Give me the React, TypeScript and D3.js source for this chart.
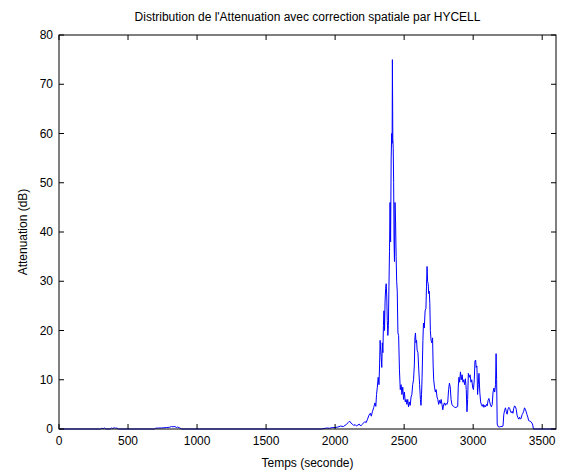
import React from "react";
import * as d3 from "d3";

// Time (s) and attenuation (dB) samples of the HYCELL-corrected series
const seconds = [
  0, 300, 310, 320, 330, 340, 370, 380, 390, 400, 410, 420, 430, 690, 700, 720, 740, 760, 780, 800, 815, 825, 840, 850, 860, 875, 890, 1900,
  1920, 1940, 1960, 1980, 2000, 2020, 2040, 2060, 2080, 2095, 2105, 2115, 2125, 2135, 2145, 2155, 2165, 2175, 2185, 2195, 2205, 2215, 2225, 2235, 2245, 2255, 2262, 2270, 2280, 2288, 2295,
  2300, 2306, 2312, 2318, 2322, 2326, 2330, 2334, 2338, 2342, 2346, 2350, 2354, 2358, 2362, 2366, 2370, 2374, 2378, 2382, 2386, 2390, 2394, 2398,
  2402, 2406, 2410, 2413, 2415, 2418, 2421, 2424, 2427, 2430, 2434, 2438, 2442, 2446, 2450, 2455, 2460, 2466, 2472, 2478, 2484, 2490, 2496,
  2502, 2508, 2514, 2520, 2526, 2532, 2538, 2544, 2550, 2556, 2562, 2568, 2574, 2578, 2582, 2586, 2590, 2594, 2600, 2606, 2612, 2618, 2622, 2626, 2630, 2636,
  2640, 2646, 2652, 2658, 2662, 2666, 2670, 2674, 2678, 2682, 2686, 2690, 2695, 2700, 2706, 2710, 2714, 2720, 2726, 2732, 2738, 2744, 2750, 2756, 2762, 2768, 2774,
  2780, 2786, 2792, 2798, 2804, 2810, 2816, 2822, 2828, 2834, 2840, 2846, 2852, 2858, 2864, 2870, 2876, 2882, 2888, 2892, 2897,
  2902, 2908, 2914, 2920, 2926, 2932, 2938, 2944, 2950, 2955, 2960, 2965, 2972, 2978, 2984, 2990, 2996,
  3002, 3008, 3013, 3018, 3022, 3027, 3032, 3037, 3042, 3048, 3054, 3060, 3066, 3072, 3078, 3084, 3090, 3096,
  3102, 3108, 3114, 3120, 3126, 3132, 3138, 3144, 3150, 3156, 3162, 3166, 3170, 3174, 3180, 3190,
  3200, 3210, 3216, 3222, 3228, 3234, 3240, 3246, 3252, 3258, 3264, 3270, 3276, 3282, 3288, 3294,
  3300, 3306, 3312, 3318, 3324, 3330, 3336, 3342, 3348, 3354, 3360, 3366, 3372, 3378, 3384, 3390, 3396,
  3402, 3410, 3418, 3426, 3432, 3436, 3600,
];

const attenuation = [
  0, 0, 0.15, 0.05, 0.2, 0, 0, 0.2, 0.1, 0.25, 0.15, 0.2, 0, 0, 0.15, 0.2, 0.2, 0.25, 0.3, 0.35, 0.5, 0.45, 0.5, 0.3, 0.4, 0.2, 0, 0,
  0.1, 0.2, 0.15, 0.3, 0.3, 0.4, 0.6, 0.5, 0.9, 1.3, 1.6, 1.2, 1.0, 0.7, 0.9, 0.6, 0.8, 1.0, 0.6, 0.9, 1.2, 1.5, 1.3, 2.0, 2.8, 3.2, 2.6, 3.5, 4.4, 5.3, 4.6,
  7.0, 8.5, 10.5, 9.0, 13.0, 18.0, 16.0, 14.5, 12.5, 17.5, 15.5, 21.0, 24.0, 20.0, 26.0, 28.5, 29.5, 27.0, 22.0, 19.0, 21.0, 29.0, 36.0, 46.0,
  38.0, 55.0, 60.0, 58.0, 75.0, 59.0, 57.0, 50.0, 38.0, 34.0, 46.0, 42.0, 35.0, 30.0, 28.0, 19.5, 19.0, 12.0, 8.0, 9.0, 7.0, 8.5, 6.0,
  7.5, 5.5, 6.0, 5.0, 6.0, 4.5, 5.5, 4.8, 6.5, 7.0, 9.0, 10.0, 13.0, 18.5, 19.5, 17.5, 18.0, 16.0, 15.5, 12.0, 9.0, 6.0, 4.8, 7.0, 10.5, 18.0,
  21.5, 20.5, 24.0, 24.5, 29.0, 33.0, 30.0, 29.5, 27.5, 28.0, 25.5, 20.0, 18.0, 17.5, 18.5, 13.0, 10.0, 8.5, 7.5, 8.0, 6.5, 6.0, 5.0, 5.8, 5.2, 6.0, 5.0,
  3.9, 5.0, 5.3, 4.8, 5.2, 5.0, 5.5, 8.0, 9.3, 8.5, 6.0, 5.0, 4.7, 4.6, 4.5, 4.3, 4.5, 4.4, 4.6, 8.5, 10.5,
  9.5, 11.6, 10.0, 11.0, 9.5, 10.0, 9.0, 10.2, 8.0, 3.5, 6.0, 11.3, 10.5, 11.0, 9.5, 10.0, 8.5,
  8.0, 10.0, 13.8, 14.0, 12.5, 12.8, 7.0, 9.0, 11.3, 7.5, 5.5, 4.9, 4.6, 5.0, 4.4, 4.8, 4.5, 5.0,
  4.7, 5.8, 6.2, 5.5, 4.8, 4.5, 5.0, 7.5, 8.3, 7.5, 9.0, 15.3, 10.0, 1.0, 0.5, 0.4,
  0.5, 0.5, 0.6, 3.0, 3.8, 4.3, 3.5, 3.0, 4.0, 4.4, 4.2, 3.6, 3.3, 3.6, 3.2, 4.2,
  4.7, 4.5, 4.0, 2.8, 2.3, 2.0, 2.4, 2.0, 2.2, 2.9, 3.2, 3.6, 4.3, 4.0, 3.5, 2.9, 2.4,
  1.7, 1.6, 1.5, 1.2, 0.8, 0, 0,
];

const xTicks = [0, 500, 1000, 1500, 2000, 2500, 3000, 3500];
const yTicks = [0, 10, 20, 30, 40, 50, 60, 70, 80];

const titleText = "Distribution de l'Attenuation avec correction spatiale par HYCELL";
const xLabel = "Temps (seconde)";
const yLabel = "Attenuation (dB)";

const W = 567;
const H = 470;
const margin = { left: 59, right: 11, top: 35, bottom: 41 };
const font = "'Liberation Sans', Arial, sans-serif";
const fontSize = 12;
const tickLen = 5;

export default function App() {
  const x = d3.scaleLinear().domain([0, 3600]).range([margin.left, W - margin.right]);
  const y = d3.scaleLinear().domain([0, 80]).range([H - margin.bottom, margin.top]);
  const [x0, x1] = x.range();
  const [y0, y1] = y.range();

  const points: [number, number][] = seconds.map((t, i) => [t, attenuation[i]]);
  const line = d3
    .line<[number, number]>()
    .x((d) => x(d[0]))
    .y((d) => y(d[1]));

  return (
    <svg
      width={W}
      height={H}
      style={{ position: "absolute", left: 0, top: 0, background: "#fff" }}
      fontFamily={font}
    >
      <rect x={0} y={0} width={W} height={H} fill="#fff" />
      <text x={(x0 + x1) / 2} y={21} fontSize={fontSize} textAnchor="middle" fill="#000">
        {titleText}
      </text>

      <path d={line(points) ?? ""} fill="none" stroke="#0000ff" strokeWidth={1} />

      {/* ticks on all four sides, pointing inward */}
      {xTicks.map((t) => (
        <g key={"xt" + t}>
          <line x1={x(t)} x2={x(t)} y1={y0} y2={y0 - tickLen} stroke="#000" />
          <line x1={x(t)} x2={x(t)} y1={y1} y2={y1 + tickLen} stroke="#000" />
          <text x={x(t)} y={y0 + 16} fontSize={fontSize} textAnchor="middle" fill="#000">
            {t}
          </text>
        </g>
      ))}
      {yTicks.map((t) => (
        <g key={"yt" + t}>
          <line x1={x0} x2={x0 + tickLen} y1={y(t)} y2={y(t)} stroke="#000" />
          <line x1={x1} x2={x1 - tickLen} y1={y(t)} y2={y(t)} stroke="#000" />
          <text x={x0 - 6} y={y(t) + 4} fontSize={fontSize} textAnchor="end" fill="#000">
            {t}
          </text>
        </g>
      ))}

      <rect
        x={x0}
        y={y1}
        width={x1 - x0}
        height={y0 - y1}
        fill="none"
        stroke="#000"
        strokeWidth={1}
      />

      <text x={(x0 + x1) / 2} y={467} fontSize={fontSize} textAnchor="middle" fill="#000">
        {xLabel}
      </text>
      <text
        transform={`translate(27, ${(y0 + y1) / 2}) rotate(-90)`}
        fontSize={fontSize}
        textAnchor="middle"
        fill="#000"
      >
        {yLabel}
      </text>
    </svg>
  );
}
